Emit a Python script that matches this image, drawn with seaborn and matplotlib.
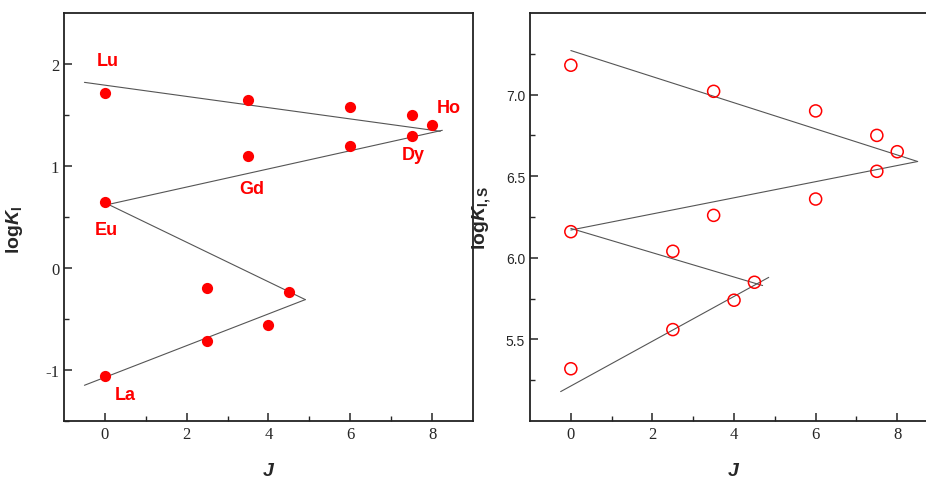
import pandas as pd
import seaborn as sns
import matplotlib.pyplot as plt

# Left panel: log K_I vs J
j_left = [0, 3.5, 6, 7.5, 8, 7.5, 6, 3.5, 0, 4.5, 2.5, 4, 2.5, 0]
logk_left = [1.72, 1.65, 1.58, 1.50, 1.40, 1.29, 1.20, 1.10, 0.65, -0.24, -0.20, -0.56, -0.72, -1.06]

# Right panel: log K_I,S vs J
j_right = [0, 3.5, 6, 7.5, 8, 7.5, 6, 3.5, 0, 2.5, 4.5, 4, 2.5, 0]
logk_right = [7.18, 7.02, 6.90, 6.75, 6.65, 6.53, 6.36, 6.26, 6.16, 6.04, 5.85, 5.74, 5.56, 5.32]

# Fitted line segments (start, end)
fits_left = [
    ([-0.5, 8.2], [1.82, 1.34]),
    ([0.05, 8.25], [0.62, 1.35]),
    ([0.05, 4.9], [0.63, -0.31]),
    ([-0.5, 4.9], [-1.15, -0.31]),
]
fits_right = [
    ([0.0, 8.5], [7.27, 6.59]),
    ([0.0, 8.5], [6.17, 6.59]),
    ([0.0, 4.7], [6.18, 5.83]),
    ([-0.25, 4.85], [5.18, 5.88]),
]

# Element labels on the left panel
elements = ['Lu', 'Ho', 'Dy', 'Gd', 'Eu', 'La']
label_x = [0.06, 8.4, 7.55, 3.6, 0.04, 0.51]
label_y = [2.03, 1.57, 1.11, 0.78, 0.38, -1.24]

sns.set_style('ticks')
plt.rcParams['font.family'] = ['Liberation Sans', 'DejaVu Sans']
plt.rcParams['axes.unicode_minus'] = False
plt.rcParams['mathtext.fontset'] = 'custom'
plt.rcParams['mathtext.rm'] = 'Liberation Sans:bold'
plt.rcParams['mathtext.it'] = 'Liberation Sans:bold:italic'
plt.rcParams['mathtext.bf'] = 'Liberation Sans:bold'

red = '#ff0000'
line_col = '#555555'
serif = 'Liberation Serif'

fig = plt.figure(figsize=(9.26, 4.81), dpi=100)
ax1 = fig.add_axes([0.0691, 0.1227, 0.4417, 0.8482])
ax2 = fig.add_axes([0.5724, 0.1227, 0.4406, 0.8482])

df_l = pd.DataFrame({'J': j_left, 'logK': logk_left})
df_r = pd.DataFrame({'J': j_right, 'logK': logk_right})

for xs, ys in fits_left:
    sns.lineplot(x=xs, y=ys, ax=ax1, color=line_col, linewidth=0.8, sort=False)
for xs, ys in fits_right:
    sns.lineplot(x=xs, y=ys, ax=ax2, color=line_col, linewidth=0.8, sort=False)

sns.scatterplot(data=df_l, x='J', y='logK', ax=ax1, color=red, s=65,
                edgecolor=red, linewidth=0, zorder=3)
sns.scatterplot(data=df_r, x='J', y='logK', ax=ax2, s=75, facecolor='none',
                edgecolor=red, linewidth=1.1, zorder=3)

for name, x, y in zip(elements, label_x, label_y):
    ax1.text(x, y, name, color=red, fontsize=13, fontweight='bold',
             ha='center', va='center')

ax1.set_xlim(-1, 9)
ax1.set_ylim(-1.5, 2.5)
ax1.set_xticks([0, 2, 4, 6, 8])
ax1.set_xticks([1, 3, 5, 7], minor=True)
ax1.set_yticks([-1, 0, 1, 2])
ax1.set_yticks([-1.5, -0.5, 0.5, 1.5], minor=True)

ax2.set_xlim(-1, 9)
ax2.set_ylim(5.0, 7.5)
ax2.set_xticks([0, 2, 4, 6, 8])
ax2.set_xticks([1, 3, 5, 7], minor=True)
ax2.set_yticks([5.5, 6.0, 6.5, 7.0])
ax2.set_yticklabels(['5.5', '6.0', '6.5', '7.0'])
ax2.set_yticks([5.25, 5.75, 6.25, 6.75, 7.25], minor=True)

for ax in (ax1, ax2):
    for sp in ax.spines.values():
        sp.set_linewidth(1.3)
        sp.set_color('#222222')
    ax.tick_params(which='major', direction='in', length=6, width=1.1,
                   top=False, right=False)
    ax.tick_params(which='minor', direction='in', length=3.5, width=1.0,
                   top=False, right=False)
    ax.set_xlabel(r'$\mathit{J}$', fontsize=14)
    ax.xaxis.set_label_coords(0.5, -0.1)
    for lab in ax.get_xticklabels():
        lab.set_fontfamily(serif)
        lab.set_fontsize(12)

for lab in ax1.get_yticklabels():
    lab.set_fontfamily(serif)
    lab.set_fontsize(12)
for lab in ax2.get_yticklabels():
    lab.set_fontsize(10)

ax1.set_ylabel(r'$\mathrm{log}\mathit{K}_\mathrm{I}$', fontsize=14)
ax1.yaxis.set_label_coords(-0.095, 0.47)
ax2.set_ylabel(r'$\mathrm{log}\mathit{K}_\mathrm{I,S}$', fontsize=14)
ax2.yaxis.set_label_coords(-0.09, 0.5)

fig.savefig('out.png', dpi=100)
